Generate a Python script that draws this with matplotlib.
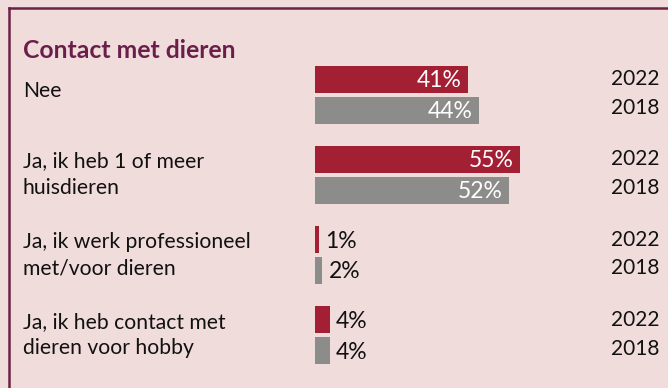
import matplotlib.pyplot as plt
from matplotlib.lines import Line2D

plt.rcParams['font.family'] = ['Lato', 'DejaVu Sans']

# Survey answers and shares (%)
title = "Contact met dieren"
categories = [
    "Nee",
    "Ja, ik heb 1 of meer\nhuisdieren",
    "Ja, ik werk professioneel\nmet/voor dieren",
    "Ja, ik heb contact met\ndieren voor hobby",
]
years = ["2022", "2018"]
share_2022 = [41, 55, 1, 4]
share_2018 = [44, 52, 2, 4]

bg = "#f1dcdc"
red = "#a31f34"
grey = "#8c8c8a"
purple = "#6b2148"

W, H = 668, 388
x0 = 315          # pixel where the bars start
px_per_pct = 3.73
group_top = 79.3  # centre of the first 2022 bar
group_step = 80.1
pair_gap = 31.0
bar_h = 26.7

fig = plt.figure(figsize=(W / 100, H / 100), dpi=100)
fig.patch.set_facecolor(bg)
ax = fig.add_axes([0, 0, 1, 1])
ax.set_facecolor(bg)
ax.set_xlim(-x0 / px_per_pct, (W - x0) / px_per_pct)
ax.set_ylim(H, 0)
ax.axis("off")

# frame lines at top and left
fig.add_artist(Line2D([8.5 / W, 1], [1 - 8 / H, 1 - 8 / H], color=purple, lw=1.8))
fig.add_artist(Line2D([8.5 / W, 8.5 / W], [0, 1 - 8 / H], color=purple, lw=1.8))

def px(x):
    return (x - x0) / px_per_pct

ax.text(px(23), 51, title, fontsize=17.8, fontweight="bold", color="#6a1f4b",
        va="center", ha="left")

for i, cat in enumerate(categories):
    yc = group_top + i * group_step
    y22, y18 = yc, yc + pair_gap
    for y, val, col in [(y22, share_2022[i], red), (y18, share_2018[i], grey)]:
        ax.barh(y, val, height=bar_h, left=0, color=col)
        if val > 10:
            ax.text(val - 1.8, y + 1.5, f"{val}%", color="white", fontsize=16.5,
                    ha="right", va="center")
        else:
            ax.text(val + 1.6, y + 1.5, f"{val}%", color="#111111", fontsize=16.5,
                    ha="left", va="center")
    ax.text(px(611), y22 + 6, years[0], fontsize=15, color="#111111", ha="left", va="baseline")
    ax.text(px(611), y18 + 4, years[1], fontsize=15, color="#111111", ha="left", va="baseline")

    lines = cat.split("\n")
    base = 97 if len(lines) == 1 else yc + 8
    for j, line in enumerate(lines):
        ax.text(px(23), base + j * 26.6, line, fontsize=15.2, color="#111111",
                ha="left", va="baseline")

fig.savefig("out.png", dpi=100, facecolor=bg)
